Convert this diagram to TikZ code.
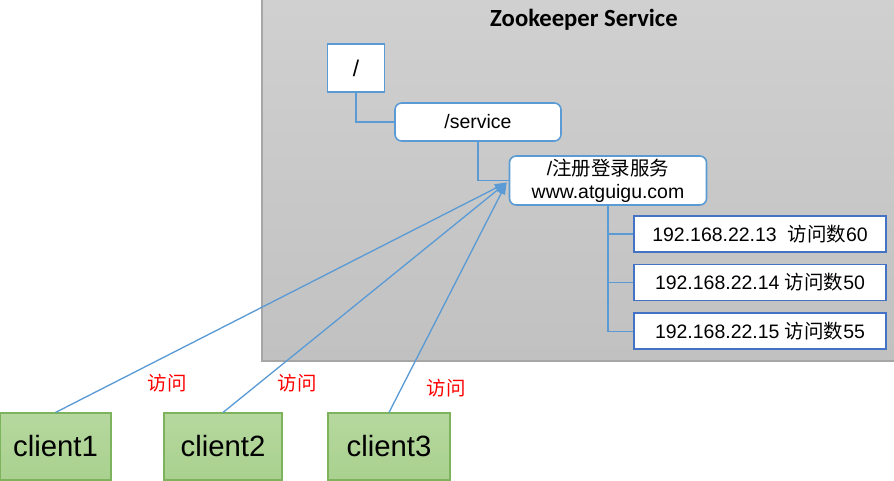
\documentclass[tikz,border=0pt]{standalone}
\usepackage{fontspec}
\setmainfont{Liberation Sans}
\newfontfamily\cjk{Noto Sans CJK SC}
\newfontfamily\titlefont{Carlito}
\usetikzlibrary{positioning,arrows.meta,calc}
\definecolor{ink}{HTML}{000000}
\definecolor{line}{HTML}{5B9BD5}
\definecolor{deep}{HTML}{4472C4}
\definecolor{panel}{HTML}{CBCBCB}
\definecolor{paneledge}{HTML}{A6A6A6}
\definecolor{leaf}{HTML}{A9D18E}
\definecolor{leafedge}{HTML}{7DB35C}
\definecolor{hit}{HTML}{FF0000}
\newdimen\px \px=0.75pt
\newcommand{\zh}[1]{{\cjk #1}}
\tikzset{
  znode/.style={draw=line, fill=white, line width=1.2pt, inner sep=0pt,
                font=\fontsize{14.6}{17.2}\selectfont, align=center},
  zpath/.style={znode, rounded corners=5pt},
  ipbox/.style={znode, draw=deep, minimum width=252\px, minimum height=36\px},
  client/.style={draw=leafedge, line width=0.8pt, top color=leaf!85!white, bottom color=leaf,
                 minimum width=111\px, minimum height=67\px, font=\fontsize{22}{25}\selectfont},
  tree/.style={draw=line, line width=1pt},
  ar/.style={-{Triangle[length=9pt,width=6pt]}, draw=line, line width=1pt},
  visit/.style={text=hit, font=\cjk\fontsize{14.6}{17}\selectfont},
}
\begin{document}
\begin{tikzpicture}[x=1\px, y=-1\px]
\useasboundingbox (0,0) rectangle (894,480);
% --- zookeeper panel ---
\fill[top color=panel!90!white, bottom color=panel!95!black] (262,-2) rectangle (896,361);
\draw[paneledge, line width=0.8pt] (262,-2) -- (262,361) -- (896,361);
\node[font=\titlefont\bfseries\fontsize{18.5}{20}\selectfont] (title) at (584,20) {Zookeeper Service};

% --- znode tree ---
\node[znode, minimum width=57\px, minimum height=48\px, font=\fontsize{17}{18}\selectfont] (root) at (356,68) {/};
\node[zpath, minimum width=166\px, minimum height=38\px] (service) at (478,122) {/service};
\node[zpath, minimum width=197\px, minimum height=49\px] (reg) at (608,180.5)
  {/\zh{注册登录服务}\\www.atguigu.com};
\node[ipbox] (ip1) at (760,234) {192.168.22.13\ \ \zh{访问数}60};
\node[ipbox] (ip2) [below=11\px of ip1] {192.168.22.14 \zh{访问数}50};
\node[ipbox] (ip3) [below=11\px of ip2] {192.168.22.15 \zh{访问数}55};
\draw[tree] (root.south) |- (service.west);
\draw[tree] (service.south) |- (reg.west);
\draw[tree] (reg.south) |- (ip1.west);
\draw[tree] (reg.south) |- (ip2.west);
\draw[tree] (reg.south) |- (ip3.west);

% --- clients ---
\node[client] (c1) at (55.5,446.5) {client1};
\node[client, minimum width=118\px] (c2) at (223,446.5) {client2};
\node[client, minimum width=122\px] (c3) at (389,446.5) {client3};
\coordinate (hub) at ($(reg.west)+(-2,2)$);
\draw[ar] (c1.north) -- (hub);
\draw[ar] (c2.north) -- (hub);
\draw[ar] (c3.north) -- (hub);
\node[visit] (v1) at (167,383) {访问};
\node[visit] (v2) at (297,383) {访问};
\node[visit] (v3) at (446,388) {访问};
\end{tikzpicture}
\end{document}
